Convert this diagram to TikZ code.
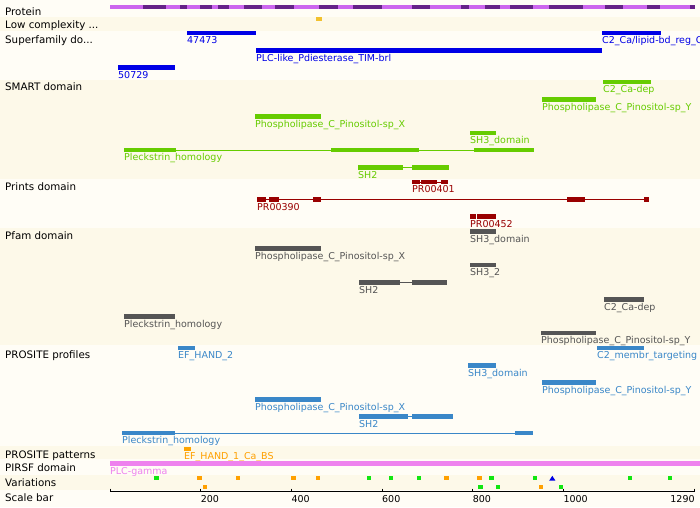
\documentclass[tikz,border=0pt]{standalone}
\usepackage{fontspec}
\setmainfont{DejaVu Sans}
\usetikzlibrary{positioning}

\definecolor{bandA}{RGB}{255,253,246}
\definecolor{bandB}{RGB}{253,249,233}
\definecolor{protlight}{RGB}{204,102,238}
\definecolor{protdark}{RGB}{102,34,136}
\definecolor{lowgold}{RGB}{242,193,46}
\definecolor{sfblue}{RGB}{0,0,230}
\definecolor{smgreen}{RGB}{102,204,0}
\definecolor{prred}{RGB}{153,0,0}
\definecolor{pfgrey}{RGB}{85,85,85}
\definecolor{psblue}{RGB}{58,135,200}
\definecolor{ptorange}{RGB}{255,165,0}
\definecolor{piviolet}{RGB}{238,130,238}
\definecolor{vgreen}{RGB}{17,230,17}
\definecolor{vorange}{RGB}{255,160,0}

\tikzset{
  rowlabel/.style={anchor=base west, inner sep=0pt, font=\fontsize{10.3}{12}\selectfont},
  featlabel/.style={anchor=base west, inner sep=0pt, font=\fontsize{9.5}{11}\selectfont, text=#1},
  featbox/.style={fill=#1, draw=none, inner sep=0pt, outer sep=0pt, anchor=north west},
  link/.style={draw=#1, line width=0.8pt},
  varmark/.style={fill=#1, draw=none, inner sep=0pt, outer sep=0pt, minimum size=4.4pt},
}

% one bar of a feature: name, colour, x from, x to, y top, y bottom
\newcommand{\feat}[6]{%
  \node[featbox=#2, minimum width={(#4-(#3))*1pt}, minimum height={(#6-(#5))*1pt}] (#1) at (#3,#5) {};}
% text under the first bar of a feature
\newcommand{\featname}[3]{%
  \node[featlabel=#2] (#1-l) at ([yshift=-8.3pt]#1.south west) {#3};}

\begin{document}
\begin{tikzpicture}[x=1pt, y=-1pt]
\useasboundingbox (0,0) rectangle (700,507);

% row bands
\foreach \t/\b/\c in {0/17/bandA, 17/31/bandB, 31/80/bandA, 80/179/bandB, 179/228/bandA,
  228/345/bandB, 345/446/bandA, 446/459/bandB, 459/475/bandA, 475/490/bandB, 490/507/bandA}
  \fill[\c] (0,\t) rectangle (700,\b);

% row titles
\node[rowlabel] (r-prot) at (5,15.5) {Protein};
\node[rowlabel] (r-low) at (5,28.3) {Low complexity ...};
\node[rowlabel] (r-sf) at (5,43) {Superfamily do...};
\node[rowlabel] (r-smart) at (5,90) {SMART domain};
\node[rowlabel] (r-prints) at (5,190.5) {Prints domain};
\node[rowlabel] (r-pfam) at (5,239.3) {Pfam domain};
\node[rowlabel] (r-prof) at (5,358.3) {PROSITE profiles};
\node[rowlabel] (r-pat) at (5,458.3) {PROSITE patterns};
\node[rowlabel] (r-pirsf) at (5,471.5) {PIRSF domain};
\node[rowlabel] (r-var) at (5,486.5) {Variations};
\node[rowlabel] (r-scale) at (5,501.5) {Scale bar};

% protein
\fill[protlight] (110,5) rectangle (695,9.3);
\foreach \a/\b in {143/166, 180/187, 200/212, 218/229, 244/262, 275/294, 319/338, 353/382,
  412/430, 461/469, 485/500, 510/533, 549/583, 605/623, 647/660, 690/695}
  \fill[protdark] (\a,5) rectangle (\b,9.3);

% low complexity
\feat{lc}{lowgold}{316}{321.5}{16.8}{21}

% superfamily
\feat{sf1}{sfblue}{187}{256}{31}{35.3}\featname{sf1}{sfblue}{47473}
\feat{sf2}{sfblue}{256}{602}{48.3}{52.7}\featname{sf2}{sfblue}{PLC-like\_Pdiesterase\_TIM-brl}
\feat{sf3}{sfblue}{602}{661}{31}{35.3}\featname{sf3}{sfblue}{C2\_Ca/lipid-bd\_reg\_C}
\feat{sf4}{sfblue}{118}{175}{65}{69.7}\featname{sf4}{sfblue}{50729}

% SMART
\feat{sm1}{smgreen}{603}{651}{80}{84.3}\featname{sm1}{smgreen}{C2\_Ca-dep}
\feat{sm2}{smgreen}{542}{596}{97.3}{101.7}\featname{sm2}{smgreen}{Phospholipase\_C\_Pinositol-sp\_Y}
\feat{sm3}{smgreen}{255}{321}{114.3}{118.7}\featname{sm3}{smgreen}{Phospholipase\_C\_Pinositol-sp\_X}
\feat{sm4}{smgreen}{470}{496}{131}{135.3}\featname{sm4}{smgreen}{SH3\_domain}
\feat{sm5a}{smgreen}{124}{176}{147.8}{152.3}
\feat{sm5b}{smgreen}{331}{419}{147.8}{152.3}
\feat{sm5c}{smgreen}{474}{534}{147.8}{152.3}\featname{sm5a}{smgreen}{Pleckstrin\_homology}
\draw[link=smgreen] (sm5a.east) -- (sm5b.west) (sm5b.east) -- (sm5c.west);
\feat{sm6a}{smgreen}{358}{403}{165.3}{169.8}
\feat{sm6b}{smgreen}{412}{449}{165.3}{169.8}\featname{sm6a}{smgreen}{SH2}
\draw[link=smgreen] (sm6a.east) -- (sm6b.west);

% Prints
\feat{pr1a}{prred}{412}{420}{180}{184.3}
\feat{pr1b}{prred}{421}{437}{180}{184.3}
\feat{pr1c}{prred}{441}{448}{180}{184.3}\featname{pr1a}{prred}{PR00401}
\draw[link=prred] (pr1a.east) -- (pr1c.west);
\feat{pr2a}{prred}{257}{266}{197.2}{201.7}
\feat{pr2b}{prred}{269}{279}{197.2}{201.7}
\feat{pr2c}{prred}{313}{321}{197.2}{201.7}
\feat{pr2d}{prred}{567}{585}{197.2}{201.7}
\feat{pr2e}{prred}{644}{649}{197.2}{201.7}\featname{pr2a}{prred}{PR00390}
\draw[link=prred] (pr2a.east) -- (pr2e.west);
\feat{pr3a}{prred}{470}{475.5}{214.3}{218.7}
\feat{pr3b}{prred}{476.5}{496}{214.3}{218.7}\featname{pr3a}{prred}{PR00452}

% Pfam
\feat{pf1}{pfgrey}{470}{496}{229}{233.7}\featname{pf1}{pfgrey}{SH3\_domain}
\feat{pf2}{pfgrey}{255}{321}{246}{250.7}\featname{pf2}{pfgrey}{Phospholipase\_C\_Pinositol-sp\_X}
\feat{pf3}{pfgrey}{470}{496}{263}{267.3}\featname{pf3}{pfgrey}{SH3\_2}
\feat{pf4a}{pfgrey}{359}{400}{280}{284.7}
\feat{pf4b}{pfgrey}{412}{447}{280}{284.7}\featname{pf4a}{pfgrey}{SH2}
\draw[link=pfgrey] (pf4a.east) -- (pf4b.west);
\feat{pf5}{pfgrey}{604}{644}{297}{301.7}\featname{pf5}{pfgrey}{C2\_Ca-dep}
\feat{pf6}{pfgrey}{124}{175}{314}{318.7}\featname{pf6}{pfgrey}{Pleckstrin\_homology}
\feat{pf7}{pfgrey}{541}{596}{330.7}{335.3}\featname{pf7}{pfgrey}{Phospholipase\_C\_Pinositol-sp\_Y}

% PROSITE profiles
\feat{ps1}{psblue}{178}{195}{345.7}{350}\featname{ps1}{psblue}{EF\_HAND\_2}
\feat{ps2}{psblue}{597}{644}{345.7}{350}\featname{ps2}{psblue}{C2\_membr\_targeting}
\feat{ps3}{psblue}{468}{496}{363}{367.7}\featname{ps3}{psblue}{SH3\_domain}
\feat{ps4}{psblue}{542}{596}{380}{384.7}\featname{ps4}{psblue}{Phospholipase\_C\_Pinositol-sp\_Y}
\feat{ps5}{psblue}{255}{321}{397}{401.7}\featname{ps5}{psblue}{Phospholipase\_C\_Pinositol-sp\_X}
\feat{ps6a}{psblue}{359}{408}{414}{418.7}
\feat{ps6b}{psblue}{412}{453}{414}{418.7}\featname{ps6a}{psblue}{SH2}
\draw[link=psblue] (ps6a.east) -- (ps6b.west);
\feat{ps7a}{psblue}{122}{175}{430.7}{435.3}
\feat{ps7b}{psblue}{515}{533}{430.7}{435.3}\featname{ps7a}{psblue}{Pleckstrin\_homology}
\draw[link=psblue] (ps7a.east) -- (ps7b.west);

% PROSITE patterns, PIRSF
\feat{pt1}{ptorange}{184}{191}{446.7}{450.7}\featname{pt1}{vorange}{EF\_HAND\_1\_Ca\_BS}
\feat{pi1}{piviolet}{110}{700}{460.7}{465.7}\featname{pi1}{piviolet}{PLC-gamma}

% variations
\foreach \x/\y/\c [count=\i] in {156.5/478.2/vgreen, 199.5/478.2/vorange, 237.7/478.2/vorange,
  293.3/478.2/vorange, 318/478.2/vorange, 369/478.2/vgreen, 391/478.2/vgreen, 419/478.2/vgreen,
  446.5/478.2/vorange, 479.5/478.2/vorange, 491.5/478.2/vgreen, 535/478.2/vgreen,
  630/478.2/vgreen, 670/478.2/vgreen, 205/487.2/vorange, 480.5/487.2/vgreen,
  498/487.2/vgreen, 541/487.2/vorange, 561/487.2/vgreen}
  \node[varmark=\c] (v\i) at (\x,\y) {};
\fill[sfblue] (549.2,480.6) -- (552.3,475.8) -- (555.4,480.6) -- cycle;

% scale bar
\draw[line width=0.8pt] (110,491) -- (695,491);
\foreach \r in {0,200,400,600,800,1000,1290} {
  \pgfmathsetmacro\sx{110+0.4533*\r}
  \draw[line width=0.8pt] (\sx,488.6) -- (\sx,492.4);
}
\foreach \r in {200,400,600,800,1000} {
  \pgfmathsetmacro\sx{110+0.4533*\r}
  \node[featlabel=black] (s\r) at (\sx,502) {\r};
}
\node[featlabel=black, anchor=base east] (s1290) at (694.8,502) {1290};
\end{tikzpicture}
\end{document}
